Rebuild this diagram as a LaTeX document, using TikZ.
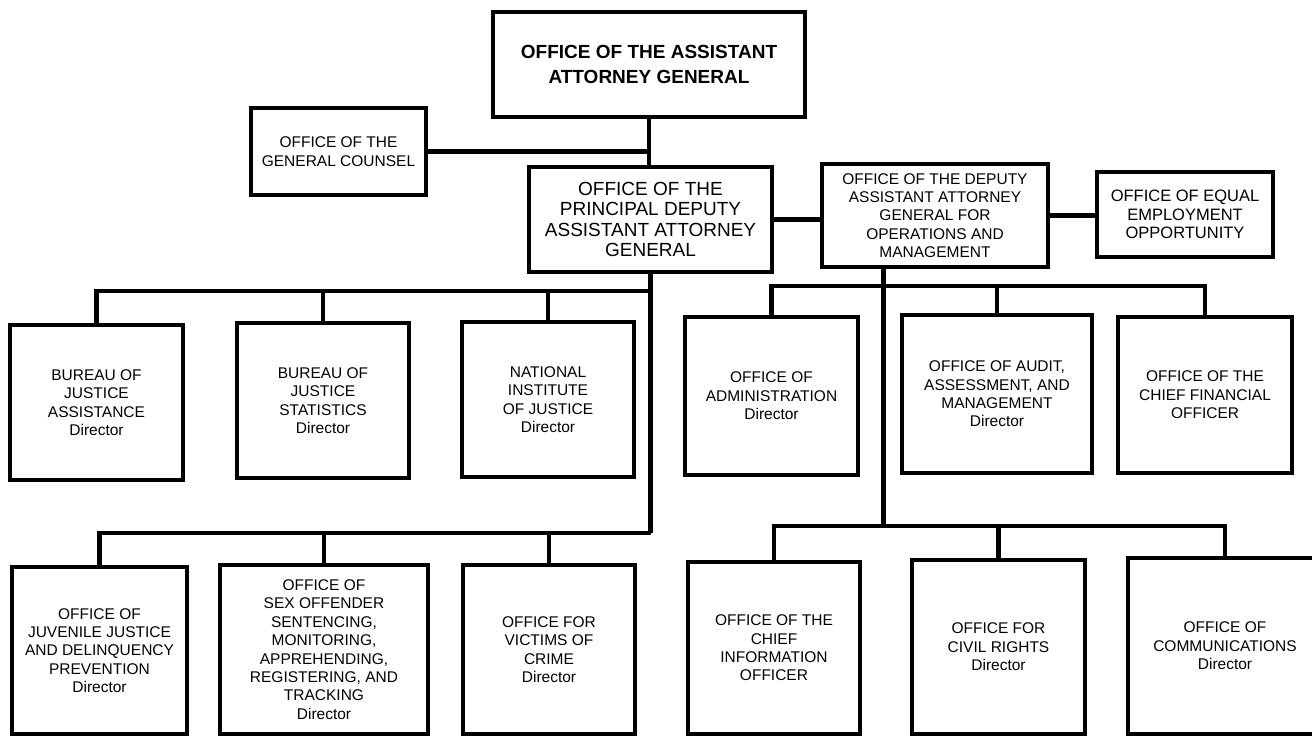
\documentclass[tikz,border=0pt]{standalone}
\usepackage{fontspec}
\setmainfont{Liberation Sans}
\begin{document}
\begin{tikzpicture}[x=1pt,y=-1pt,
  box/.style={draw,line width=3.5pt,rectangle,inner sep=0pt,align=center,
    font=\fontsize{15.5}{18.4}\selectfont},
  conn/.style={line width=4.5pt,line join=miter,line cap=butt}]
\useasboundingbox (0,0) rectangle (1312,736);
\begin{scope}
\clip (0,0) rectangle (1312,736);
% top level
\node[box,minimum width=312pt,minimum height=105pt,font=\fontsize{19}{25}\selectfont\bfseries] (aag) at (649,64.5) {OFFICE OF THE ASSISTANT\\ATTORNEY GENERAL};
\node[box,minimum width=175pt,minimum height=87pt] (gc) at (338.5,151.5) {OFFICE OF THE\\GENERAL COUNSEL};
\node[box,minimum width=243pt,minimum height=105pt,font=\fontsize{19}{20.5}\selectfont] (pdaag) at (650.5,219.5) {OFFICE OF THE\\PRINCIPAL DEPUTY\\ASSISTANT ATTORNEY\\GENERAL};
\node[box,minimum width=226pt,minimum height=103pt] (daag) at (935,215.5) {OFFICE OF THE DEPUTY\\ASSISTANT ATTORNEY\\GENERAL FOR\\OPERATIONS AND\\MANAGEMENT};
\node[box,minimum width=176pt,minimum height=85pt,font=\fontsize{16.5}{18.5}\selectfont] (eeo) at (1185,214.5) {OFFICE OF EQUAL\\EMPLOYMENT\\OPPORTUNITY};
% row 1
\node[box,minimum width=173pt,minimum height=155pt] (bja) at (96.5,402.5) {BUREAU OF\\JUSTICE\\ASSISTANCE\\Director};
\node[box,minimum width=172pt,minimum height=155pt] (bjs) at (323,400.5) {BUREAU OF\\JUSTICE\\STATISTICS\\Director};
\node[box,minimum width=172pt,minimum height=155pt] (nij) at (548,399.5) {NATIONAL\\INSTITUTE\\OF JUSTICE\\Director};
\node[box,minimum width=173pt,minimum height=158pt] (oa) at (771.5,396) {OFFICE OF\\ADMINISTRATION\\Director};
\node[box,minimum width=190pt,minimum height=158pt] (oaam) at (997,394) {OFFICE OF AUDIT,\\ASSESSMENT, AND\\MANAGEMENT\\Director};
\node[box,minimum width=174pt,minimum height=156pt] (ocfo) at (1205,395) {OFFICE OF THE\\CHIEF FINANCIAL\\OFFICER};
% row 2
\node[box,minimum width=175pt,minimum height=167pt] (ojjdp) at (99.5,650.5) {OFFICE OF\\JUVENILE JUSTICE\\AND DELINQUENCY\\PREVENTION\\Director};
\node[box,minimum width=208pt,minimum height=169pt] (smart) at (324,649.5) {OFFICE OF\\SEX OFFENDER\\SENTENCING,\\MONITORING,\\APPREHENDING,\\REGISTERING, AND\\TRACKING\\Director};
\node[box,minimum width=172pt,minimum height=169pt] (ovc) at (549,649.5) {OFFICE FOR\\VICTIMS OF\\CRIME\\Director};
\node[box,minimum width=172pt,minimum height=172pt] (ocio) at (774,648) {OFFICE OF THE\\CHIEF\\INFORMATION\\OFFICER};
\node[box,minimum width=173pt,minimum height=174pt] (ocr) at (998.5,647) {OFFICE FOR\\CIVIL RIGHTS\\Director};
\node[box,minimum width=194pt,minimum height=176pt] (ocom) at (1225,646) {OFFICE OF\\COMMUNICATIONS\\Director};
% helper coordinates
\path (pdaag.south) ++(0,17) coordinate (lb1);
\path (pdaag.south) ++(0,259) coordinate (lb2);
\path (daag.south west) ++(63,0) coordinate (rs0);
\path (rs0) ++(0,17) coordinate (rb1);
\path (rs0) ++(0,257) coordinate (rb2);
% connectors top
\draw[conn] (aag.south) -- (aag.south |- pdaag.north);
\draw[conn] (gc.east) -- (gc.east -| aag.south);
\draw[conn] (pdaag.east) -- (pdaag.east -| daag.west);
\draw[conn] (daag.east) -- (daag.east -| eeo.west);
% left branch
\draw[conn] (pdaag.south) -- (lb2);
\draw[conn] (bja.north) |- (lb1);
\draw[conn] (bjs.north) -- (bjs.north |- lb1);
\draw[conn] (nij.north) -- (nij.north |- lb1);
\draw[conn] (ojjdp.north) |- (lb2);
\draw[conn] (smart.north) -- (smart.north |- lb2);
\draw[conn] (ovc.north) -- (ovc.north |- lb2);
% right branch
\draw[conn] (rs0) -- (rb2);
\draw[conn] (oa.north) |- (ocfo.north |- rb1) -- (ocfo.north);
\draw[conn] (oaam.north) -- (oaam.north |- rb1);
\draw[conn] (ocio.north) |- (ocom.north |- rb2) -- (ocom.north);
\draw[conn] (ocr.north) -- (ocr.north |- rb2);
\end{scope}
\end{tikzpicture}
\end{document}
